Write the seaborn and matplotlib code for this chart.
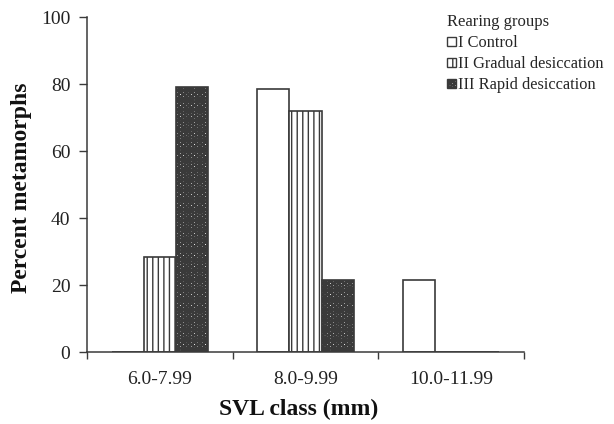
import pandas as pd
import matplotlib
matplotlib.use('Agg')
import matplotlib.pyplot as plt
import seaborn as sns

# data
svl_classes = ['6.0-7.99', '8.0-9.99', '10.0-11.99']
groups = ['I Control', 'II Gradual desiccation', 'III Rapid desiccation']
control = [0, 78.5, 21.5]
gradual = [28.5, 72, 0]
rapid = [79, 21.5, 0]

df = pd.DataFrame({
    'SVL': svl_classes * 3,
    'Group': [groups[0]] * 3 + [groups[1]] * 3 + [groups[2]] * 3,
    'Percent': control + gradual + rapid,
})

sns.set_style('white')
plt.rcParams['font.family'] = ['Liberation Serif', 'DejaVu Serif']
plt.rcParams['hatch.color'] = 'black'
plt.rcParams['hatch.linewidth'] = 1.0

fig = plt.figure(figsize=(6.14, 4.24), dpi=100)
ax = fig.add_axes([0.1417, 0.1698, 0.7117, 0.7901])

sns.barplot(data=df, x='SVL', y='Percent', hue='Group', order=svl_classes,
            hue_order=groups, palette=['white', 'white', 'white'],
            edgecolor='#3a3a3a', linewidth=1.2, width=0.66, saturation=1,
            ax=ax, legend=True)

hatches = {groups[0]: '', groups[1]: '|||', groups[2]: 'OOO'}


def set_pattern(patch, g):
    patch.set_hatch(hatches[g])
    if g == groups[2]:
        try:
            patch.set_hatch_linewidth(1.7)
        except AttributeError:
            pass


for cont, g in zip(ax.containers, groups):
    for bar in cont:
        set_pattern(bar, g)

ax.set_ylim(0, 100)
ax.set_xlim(-0.5, 2.5)
ax.set_yticks([0, 20, 40, 60, 80, 100])
ax.set_xticks([-0.5, 0.5, 1.5, 2.5])
ax.set_xticklabels([])
ax.set_xticks([0, 1, 2], minor=True)
ax.set_xticklabels(svl_classes, minor=True)
ax.tick_params(axis='x', which='major', direction='out', length=5, width=1, color='#3a3a3a', bottom=True)
ax.tick_params(axis='x', which='minor', length=0, pad=14, labelsize=14, colors='#222222')
ax.tick_params(axis='y', direction='out', length=6, width=1, color='#3a3a3a', left=True,
               labelsize=14, pad=6, labelcolor='#222222')
sns.despine(ax=ax)
for s in ['left', 'bottom']:
    ax.spines[s].set_color('#3a3a3a')
    ax.spines[s].set_linewidth(1.1)

ax.set_xlabel('SVL class (mm)', fontsize=17, fontweight='bold', color='#111111')
ax.set_ylabel('Percent metamorphs', fontsize=17, fontweight='bold', color='#111111')
ax.xaxis.set_label_coords(0.485, -0.14)
ax.yaxis.set_label_coords(-0.125, 0.49)

handles, labels = ax.get_legend_handles_labels()
ax.get_legend().remove()
leg = fig.legend(handles, labels, title='Rearing groups', loc='upper left',
                 bbox_to_anchor=(436 / 614, 1 - 3 / 424), frameon=False,
                 fontsize=11.8, title_fontsize=12, handlelength=0.5, handleheight=0.5,
                 handletextpad=0.15, labelspacing=0.3, alignment='left', borderpad=0.2)
for h, g in zip(leg.legend_handles, groups):
    h.set_linewidth(1.0)
    h.set_edgecolor('#3a3a3a')
    set_pattern(h, g)

fig.savefig('out.png', dpi=100)
